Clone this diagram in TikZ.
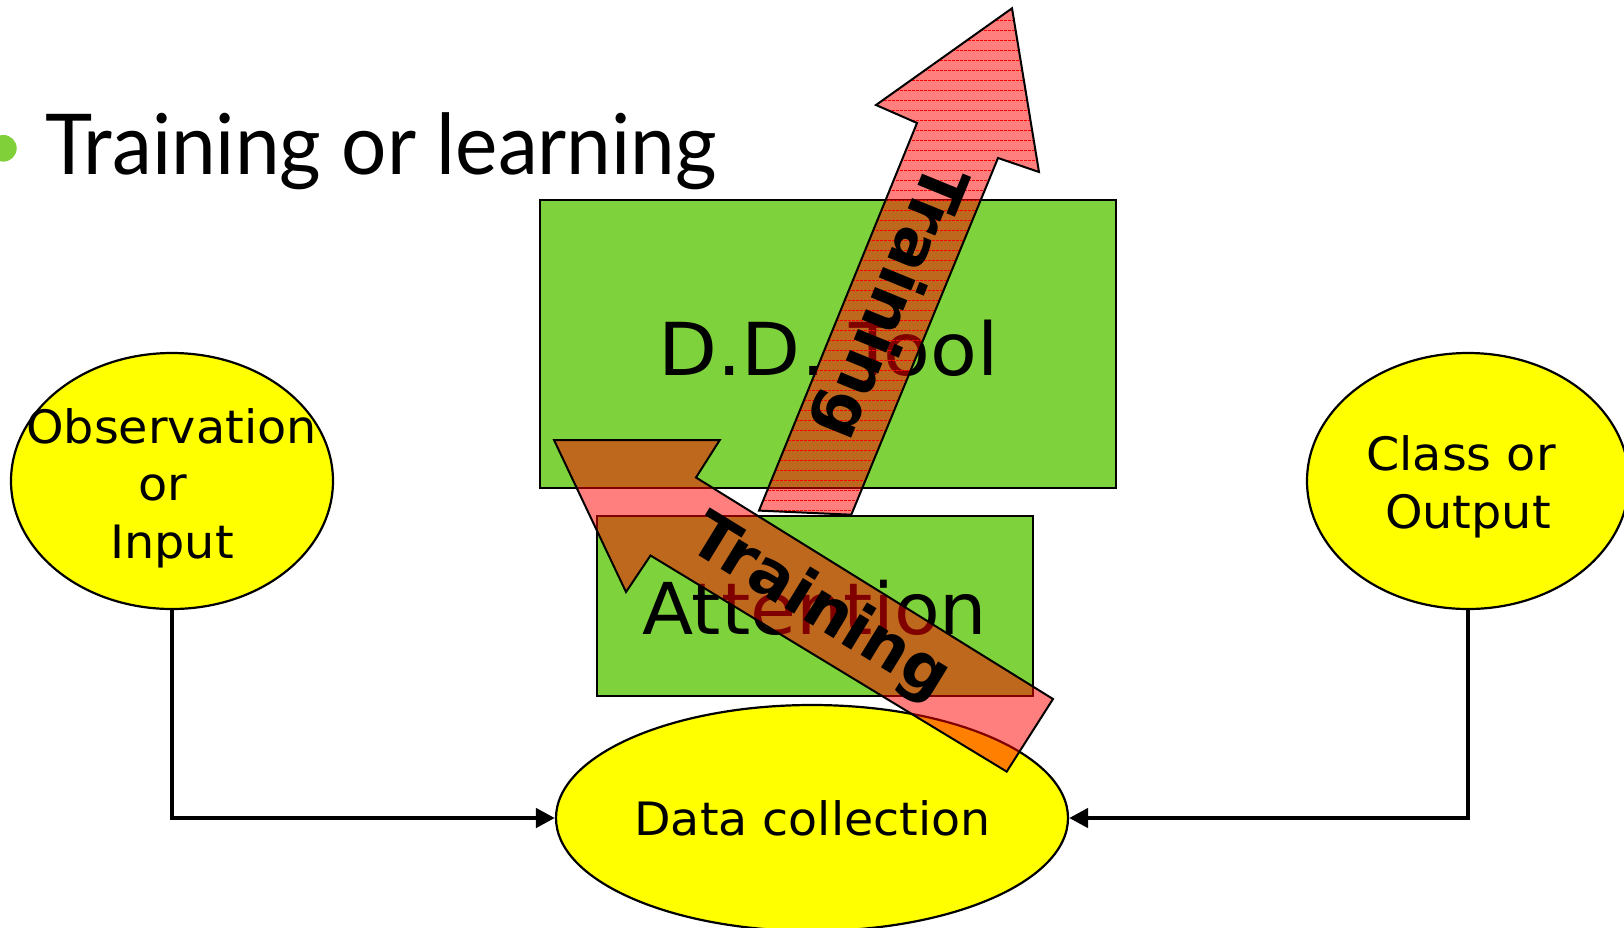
\documentclass[tikz,border=0pt]{standalone}
\usepackage{fontspec}
\setmainfont{DejaVu Sans}
\newfontfamily\titlefont{Lato}
\usetikzlibrary{shapes.geometric,arrows.meta}
\definecolor{boxgreen}{RGB}{126,210,60}
\definecolor{bulletgreen}{RGB}{128,208,58}
\definecolor{ovalyellow}{RGB}{255,255,0}
\newcommand{\widetxt}[2]{\scalebox{#1}[1]{#2}}
\begin{document}
\begin{tikzpicture}[x=1pt,y=-1pt,
  box/.style={draw=black,line width=2pt,fill=boxgreen,rectangle,inner sep=0pt},
  oval/.style={draw=black,line width=2.2pt,fill=ovalyellow,ellipse,inner sep=0pt},
  txt/.style={inner sep=0pt,anchor=base,font=\fontsize{46}{55}\selectfont},
  link/.style={line width=4.5pt,-{Triangle[length=19pt,width=19pt]}},
  redfill/.style={fill=red,fill opacity=0.5},
  outline/.style={draw=black,line width=2pt,line join=miter},
  hatch/.style={draw=red,line width=1pt,dash pattern=on 3pt off 1pt},
  arrowlabel/.style={inner sep=0pt,font=\fontsize{64}{76}\selectfont\bfseries},
]
\useasboundingbox (0,0) rectangle (1624,927);
\fill[white] (0,0) rectangle (1624,927);

% title
\node[circle,fill=bulletgreen,minimum size=26.6pt,inner sep=0pt] (bullet) at (3.4,148.3) {};
\node[anchor=base west,inner sep=0pt,font=\titlefont\fontsize{84}{100}\selectfont] (title) at (45,174) {\widetxt{0.953}{Training or learning}};

% boxes
\node[box,minimum width=576pt,minimum height=288pt] (dd) at (828,344) {};
\node[box,minimum width=436pt,minimum height=180pt] (att) at (815,605.5) {};
\node[inner sep=0pt,anchor=base,font=\fontsize{73}{86}\selectfont] (ddtxt) at (828.6,375) {\widetxt{1.05}{D.D. Tool}};
\node[inner sep=0pt,anchor=base,font=\fontsize{71.5}{86}\selectfont] (atttxt) at (814.6,634) {\widetxt{1.046}{Attention}};

% ellipses
\node[oval,minimum width=322pt,minimum height=256pt] (obs) at (172,481) {};
\node[oval,minimum width=322pt,minimum height=256pt] (cls) at (1468,481) {};
\node[oval,minimum width=512pt,minimum height=226pt] (data) at (812,818) {};
\node[txt] (obs1) at (171.5,443) {\widetxt{1.037}{Observation}};
\node[txt] (obs2) at (163,500) {\widetxt{1.037}{or}};
\node[txt] (obs3) at (172,558) {\widetxt{1.037}{Input}};
\node[txt] (cls1) at (1461,470) {\widetxt{1.037}{Class or}};
\node[txt] (cls2) at (1468,528) {\widetxt{1.037}{Output}};
\node[txt] (datatxt) at (812.5,835) {\widetxt{1.032}{Data collection}};

% connectors
\draw[link] (obs.south) |- (data.west);
\draw[link] (cls.south) |- (data.east);

% upright block arrow
\coordinate (u1) at (1012,8.3);
\coordinate (u2) at (1039,172);
\coordinate (u3) at (998,158);
\coordinate (u4) at (851.3,514.7);
\coordinate (u5) at (759,510.6);
\coordinate (u6) at (917,123);
\coordinate (u7) at (876,105);
\fill[redfill] (u1) -- (u2) -- (u3) -- (u4) -- (u5) -- (u6) -- (u7) -- cycle;
\begin{scope}
  \clip (u1) -- (u2) -- (u3) -- (u4) -- (u5) -- (u6) -- (u7) -- cycle;
  \foreach \yy in {0.5,10.5,...,520.5} \draw[hatch] (700,\yy) -- (1100,\yy);
\end{scope}
\draw[outline] (u1) -- (u2) -- (u3) -- (u4) -- (u5) -- (u6) -- (u7) -- cycle;

% diagonal block arrow
\coordinate (d1) at (554,440);
\coordinate (d2) at (719.8,440);
\coordinate (d3) at (696,477.5);
\coordinate (d4) at (1053,699);
\coordinate (d5) at (1006.7,771.6);
\coordinate (d6) at (650.5,555.5);
\coordinate (d7) at (626,592);
\fill[redfill] (d1) -- (d2) -- (d3) -- (d4) -- (d5) -- (d6) -- (d7) -- cycle;
\draw[outline] (d1) -- (d2) -- (d3) -- (d4) -- (d5) -- (d6) -- (d7) -- cycle;

% arrow labels
\node[arrowlabel,rotate=-112.2] (lab1) at (889,301) {Training};
\node[arrowlabel,rotate=-31.5] (lab2) at (819,609) {Training};
\end{tikzpicture}
\end{document}
